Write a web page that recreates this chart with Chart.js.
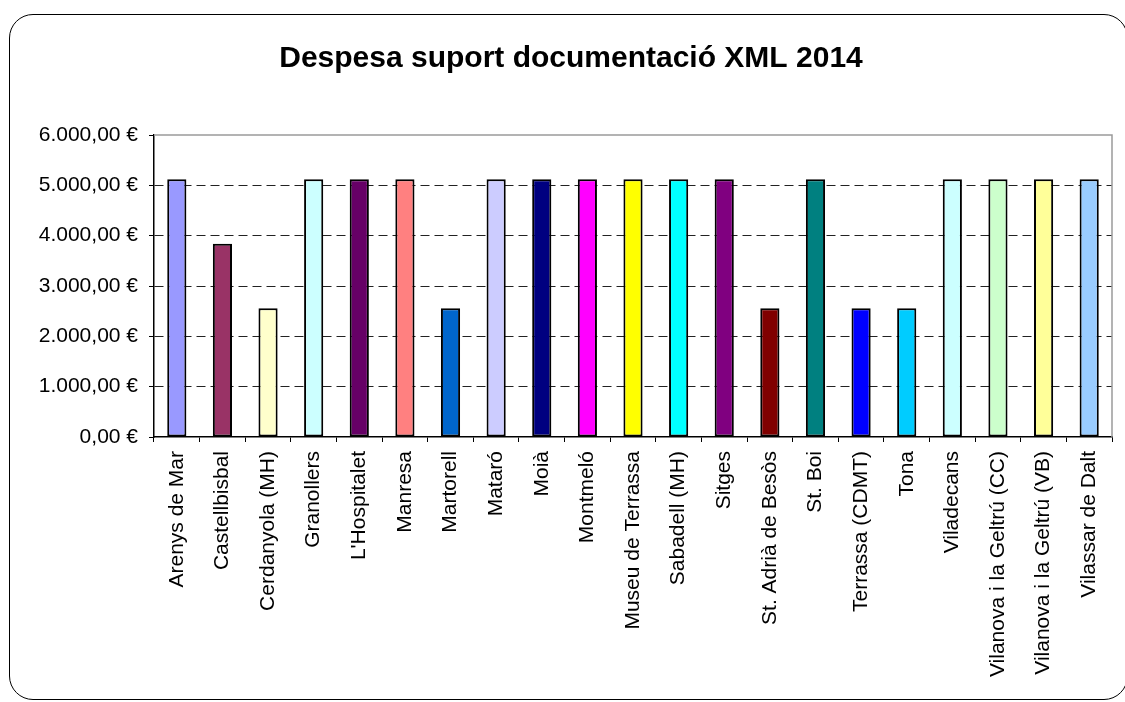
<!DOCTYPE html>
<html>
<head>
<meta charset="utf-8">
<script src="https://cdn.jsdelivr.net/npm/chart.js@4/dist/chart.umd.min.js"></script>
<style>
  html, body { margin: 0; padding: 0; background: #fff; }
  #wrap { position: relative; width: 1125px; height: 702px; overflow: hidden; }
  #marc {
    position: absolute; left: 9px; top: 14px; width: 1119px; height: 686px;
    box-sizing: border-box; border: 1.5px solid #000; border-radius: 24px;
    pointer-events: none;
  }
  canvas { position: absolute; left: 0; top: 0; }
</style>
</head>
<body>
<div id="wrap">
  <canvas id="graficoDespesa" width="1125" height="702"></canvas>
  <div id="marc"></div>
</div>
<script>
// dades
const titol = "Despesa suport documentació XML 2014";

const centres = [
  "Arenys de Mar", "Castellbisbal", "Cerdanyola (MH)", "Granollers", "L'Hospitalet",
  "Manresa", "Martorell", "Mataró", "Moià", "Montmeló", "Museu de Terrassa",
  "Sabadell (MH)", "Sitges", "St. Adrià de Besòs", "St. Boi", "Terrassa (CDMT)",
  "Tona", "Viladecans", "Vilanova i la Geltrú (CC)", "Vilanova i la Geltrú (VB)",
  "Vilassar de Dalt"
];

const despesa = [
  5120, 3840, 2560, 5120, 5120,
  5120, 2560, 5120, 5120, 5120, 5120,
  5120, 5120, 2560, 5120, 2560,
  2560, 5120, 5120, 5120,
  5120
];

const eixY = { min: 0, max: 6000, pas: 1000 };

const colors = [
  "#9999FF", "#993366", "#FFFFCC", "#CCFFFF", "#660066",
  "#FF8080", "#0066CC", "#CCCCFF", "#000080", "#FF00FF", "#FFFF00",
  "#00FFFF", "#800080", "#800000", "#008080", "#0000FF",
  "#00CCFF", "#CCFFFF", "#CCFFCC", "#FFFF99",
  "#99CCFF"
];

function formatEuro(v){
  const parts = Number(v).toFixed(2).split(".");
  parts[0] = parts[0].replace(/\B(?=(\d{3})+(?!\d))/g, ".");
  return parts[0] + "," + parts[1] + " €";
}

// marc gris de l'area de dibuix (dalt i dreta)
const marcArea = {
  id: "marcArea",
  afterDraw(chart){
    const a = chart.chartArea;
    const ctx = chart.ctx;
    ctx.save();
    ctx.strokeStyle = "#9a9a9a";
    ctx.lineWidth = 1.5;
    ctx.beginPath();
    ctx.moveTo(a.left, a.top);
    ctx.lineTo(a.right, a.top);
    ctx.lineTo(a.right, a.bottom);
    ctx.stroke();
    ctx.restore();
  }
};

Chart.defaults.font.family = "'Liberation Sans', Arial, sans-serif";
Chart.defaults.color = "#000";

const ctx = document.getElementById("graficoDespesa").getContext("2d");

new Chart(ctx, {
  type: "bar",
  data: {
    labels: centres,
    datasets: [{
      label: "Despesa",
      data: despesa,
      backgroundColor: colors,
      borderColor: "#000",
      borderWidth: 2,
      borderSkipped: false,
      categoryPercentage: 1,
      barPercentage: 0.42
    }]
  },
  plugins: [marcArea],
  options: {
    responsive: false,
    animation: false,
    layout: {
      padding: { left: 30, right: 13, top: 0, bottom: 0 }
    },
    plugins: {
      legend: { display: false },
      tooltip: { enabled: false },
      title: {
        display: true,
        text: titol,
        color: "#000",
        font: { size: 30, weight: "bold" },
        padding: { top: 41, bottom: 58 }
      }
    },
    scales: {
      x: {
        offset: true,
        grid: {
          offset: true,
          drawOnChartArea: false,
          drawTicks: true,
          tickLength: 5,
          tickColor: "#000",
          tickWidth: 1
        },
        border: { display: true, color: "#000", width: 1.5 },
        ticks: {
          autoSkip: false,
          minRotation: 90,
          maxRotation: 90,
          padding: 9,
          font: { size: 21 }
        },
        afterFit(scale){ scale.height = 265; }
      },
      y: {
        min: eixY.min,
        max: eixY.max,
        grid: {
          color(c){
            const v = c.tick ? c.tick.value : 0;
            return (v === eixY.max || v === eixY.min) ? "rgba(0,0,0,0)" : "#222";
          },
          lineWidth: 1,
          tickLength: 5,
          tickColor: "#000",
          tickBorderDash: []
        },
        border: { display: true, color: "#000", width: 1.5, dash: [9, 5] },
        ticks: {
          stepSize: eixY.pas,
          padding: 11,
          font: { size: 21 },
          callback: (v) => formatEuro(v)
        },
        afterFit(scale){ scale.width = 124; }
      }
    }
  }
});
</script>
</body>
</html>
